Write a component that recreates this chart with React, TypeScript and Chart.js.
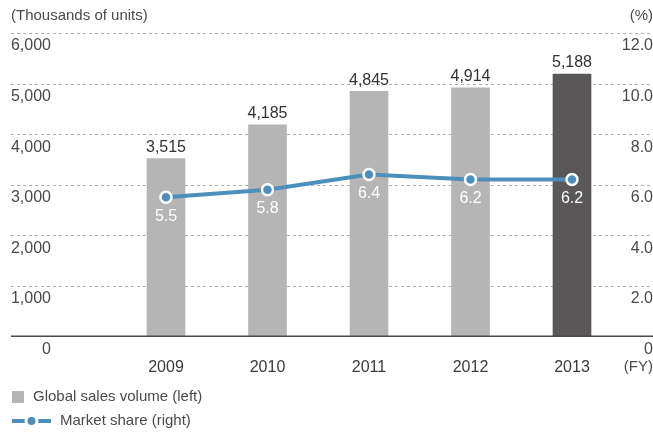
import React, { useEffect, useRef } from "react";
import { Chart, registerables } from "chart.js";

Chart.register(...registerables);

const categories = ["2009", "2010", "2011", "2012", "2013"];
const salesVolume = [3515, 4185, 4845, 4914, 5188];
const marketShare = [5.5, 5.8, 6.4, 6.2, 6.2];
const leftTicks = [0, 1000, 2000, 3000, 4000, 5000, 6000];
const rightTicks = [0, 2, 4, 6, 8, 10, 12];
const barColors = ["#b4b5b4", "#b4b5b4", "#b4b5b4", "#b4b5b4", "#595757"];
const lineColor = "#4d8fbc";
const textColor = "#4a4a4a";
const FONT = '"Liberation Sans", Arial, sans-serif';

const W = 653;
const H = 433;
const GRID_LEFT = 11;
const GRID_RIGHT = 653;

const fmtInt = (v: number) => v.toLocaleString("en-US");
const fmtPct = (v: number) => (v === 0 ? "0" : v.toFixed(1));

const decorPlugin = {
  id: "decor",
  beforeDatasetsDraw(chart: any) {
    const ctx = chart.ctx;
    const y = chart.scales.y;
    ctx.save();
    ctx.strokeStyle = "#b0b0b0";
    ctx.lineWidth = 1;
    ctx.setLineDash([3, 3]);
    leftTicks.forEach((t) => {
      if (t === 0) return;
      const py = Math.round(y.getPixelForValue(t)) + 0.5;
      ctx.beginPath();
      ctx.moveTo(GRID_LEFT, py);
      ctx.lineTo(GRID_RIGHT, py);
      ctx.stroke();
    });
    ctx.restore();
  },
  afterDatasetsDraw(chart: any) {
    const ctx = chart.ctx;
    const y = chart.scales.y;
    const y1 = chart.scales.y1;
    ctx.save();
    // zero line
    const zy = y.getPixelForValue(0);
    ctx.strokeStyle = "#4a4a4a";
    ctx.lineWidth = 1.5;
    ctx.beginPath();
    ctx.moveTo(GRID_LEFT, zy);
    ctx.lineTo(GRID_RIGHT, zy);
    ctx.stroke();

    ctx.font = `16px ${FONT}`;
    ctx.textBaseline = "middle";
    // tick labels
    ctx.fillStyle = textColor;
    ctx.textAlign = "right";
    leftTicks.forEach((t) => {
      ctx.fillText(fmtInt(t), 51, y.getPixelForValue(t) + 13);
    });
    rightTicks.forEach((t) => {
      ctx.fillText(fmtPct(t), GRID_RIGHT, y1.getPixelForValue(t) + 13);
    });

    // bar value labels
    const barMeta = chart.getDatasetMeta(0);
    ctx.textAlign = "center";
    ctx.fillStyle = "#333333";
    barMeta.data.forEach((el: any, i: number) => {
      ctx.fillText(fmtInt(salesVolume[i]), el.x, el.y - 11);
    });
    // line value labels
    const lineMeta = chart.getDatasetMeta(1);
    ctx.fillStyle = "#ffffff";
    lineMeta.data.forEach((el: any, i: number) => {
      ctx.fillText(marketShare[i].toFixed(1), el.x, el.y + 19);
    });

    // titles
    ctx.fillStyle = textColor;
    ctx.font = `15px ${FONT}`;
    ctx.textAlign = "left";
    ctx.fillText("(Thousands of units)", GRID_LEFT, 16);
    ctx.textAlign = "right";
    ctx.fillText("(%)", GRID_RIGHT, 16);
    ctx.fillText("(FY)", GRID_RIGHT, 367);

    // legend
    ctx.textAlign = "left";
    ctx.fillStyle = barColors[0];
    ctx.fillRect(12, 391, 12, 12);
    ctx.fillStyle = textColor;
    ctx.fillText("Global sales volume (left)", 33, 397);

    ctx.strokeStyle = lineColor;
    ctx.lineWidth = 4;
    ctx.beginPath();
    ctx.moveTo(12, 421);
    ctx.lineTo(51, 421);
    ctx.stroke();
    ctx.fillStyle = lineColor;
    ctx.strokeStyle = "#ffffff";
    ctx.lineWidth = 3;
    ctx.beginPath();
    ctx.arc(31.5, 421, 5.5, 0, Math.PI * 2);
    ctx.fill();
    ctx.stroke();
    ctx.fillStyle = textColor;
    ctx.fillText("Market share (right)", 60, 421);
    ctx.restore();
  },
};

export default function App() {
  const ref = useRef<HTMLCanvasElement | null>(null);
  useEffect(() => {
    if (!ref.current) return;
    const chart = new Chart(ref.current, {
      type: "bar",
      data: {
        labels: categories,
        datasets: [
          {
            type: "bar",
            label: "Global sales volume (left)",
            data: salesVolume,
            backgroundColor: barColors,
            barThickness: 38,
            yAxisID: "y",
            order: 2,
          },
          {
            type: "line",
            label: "Market share (right)",
            data: marketShare,
            borderColor: lineColor,
            borderWidth: 4,
            pointRadius: 5.5,
            pointBorderWidth: 2.5,
            pointBorderColor: "#ffffff",
            pointBackgroundColor: lineColor,
            yAxisID: "y1",
            tension: 0,
            order: 1,
          } as any,
        ],
      },
      options: {
        responsive: false,
        maintainAspectRatio: false,
        animation: false,
        layout: { padding: { left: 115.25, right: 30.25, top: 33, bottom: 33.5 } },
        plugins: { legend: { display: false }, tooltip: { enabled: false } },
        scales: {
          x: {
            grid: { display: false, drawTicks: false },
            border: { display: false },
            ticks: { color: "#3a3a3a", font: { family: FONT, size: 16 }, padding: 22 },
          },
          y: { display: false, min: 0, max: 6000 },
          y1: { display: false, min: 0, max: 12, position: "right" },
        },
      },
      plugins: [decorPlugin],
    });
    return () => chart.destroy();
  }, []);
  return (
    <div style={{ position: "fixed", left: 0, top: 0, width: W, height: H, background: "#fff" }}>
      <canvas ref={ref} width={W} height={H} style={{ display: "block" }} />
    </div>
  );
}
